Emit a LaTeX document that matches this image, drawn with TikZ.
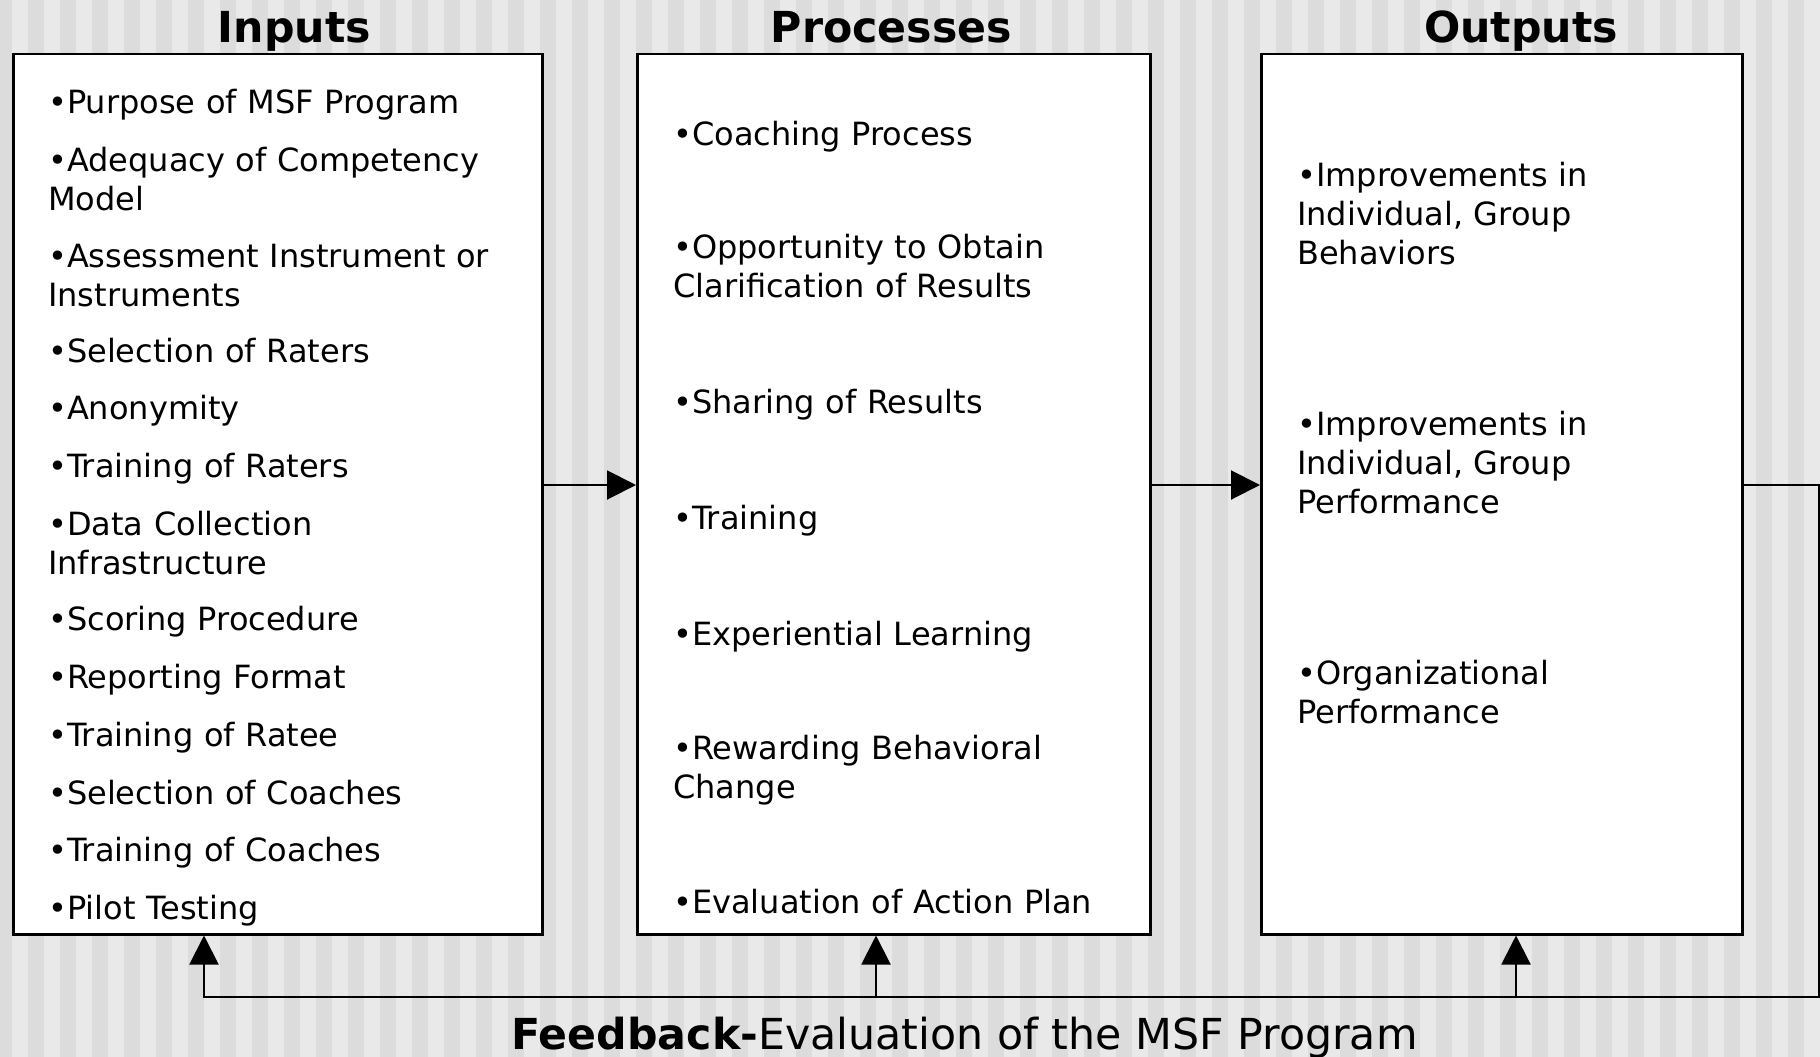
\documentclass[tikz,border=0pt]{standalone}
\usepackage{fontspec}
\setmainfont{DejaVu Sans}
\usetikzlibrary{arrows.meta}
\definecolor{stripeL}{RGB}{233,233,233}
\definecolor{stripeD}{RGB}{220,220,220}
\begin{document}
\begin{tikzpicture}[x=1pt,y=-1pt,
  colbox/.style={draw=black, line width=2.5pt, fill=white, anchor=north west,
    minimum height=880pt, inner sep=0pt},
  coltitle/.style={anchor=base, inner sep=0pt,
    font=\fontsize{42.7}{50}\selectfont\bfseries},
  colitem/.style={anchor=base west, inner sep=0pt, text width=480pt,
    align=left, font=\fontsize{32}{39}\selectfont},
  flowline/.style={line width=2pt, draw=black},
  flowarrow/.style={flowline, -{Triangle[length=29pt,width=29pt]}},
]
% page and striped background
\useasboundingbox (0,0) rectangle (1820,1057);
\fill[stripeL] (0,0) rectangle (1820,1057);
\foreach \k in {-1,...,56}
  \fill[stripeD] ({28+32*\k},0) rectangle ({44+32*\k},1057);

% column headings
\node[coltitle] (tIn)   at (294.5,43) {Inputs};
\node[coltitle] (tProc) at (891.5,43) {Processes};
\node[coltitle] (tOut)  at (1521,43)  {Outputs};

% the three columns
\node[colbox, minimum width=529pt] (in)   at (12,53)   {};
\node[colbox, minimum width=513pt] (proc) at (636,53)  {};
\node[colbox, minimum width=481pt] (out)  at (1260,53) {};

% inputs
\node[colitem] (i1)  at (48,113) {•Purpose of MSF Program};
\node[colitem] (i2)  at (48,171) {•Adequacy of Competency\\Model};
\node[colitem] (i3)  at (48,267) {•Assessment Instrument or\\Instruments};
\node[colitem] (i4)  at (48,362.5) {•Selection of Raters};
\node[colitem] (i5)  at (48,419.5) {•Anonymity};
\node[colitem] (i6)  at (48,477.5) {•Training of Raters};
\node[colitem] (i7)  at (48,535.5) {•Data Collection\\Infrastructure};
\node[colitem] (i8)  at (48,630.5) {•Scoring Procedure};
\node[colitem] (i9)  at (48,688.5) {•Reporting Format};
\node[colitem] (i10) at (48,746.5) {•Training of Ratee};
\node[colitem] (i11) at (48,804.5) {•Selection of Coaches};
\node[colitem] (i12) at (48,861.5) {•Training of Coaches};
\node[colitem] (i13) at (48,919.5) {•Pilot Testing};

% processes
\node[colitem] (p1) at (673,145.2) {•Coaching Process};
\node[colitem] (p2) at (673,258.9) {•Opportunity to Obtain\\Clarification of Results};
\node[colitem] (p3) at (673,413.3) {•Sharing of Results};
\node[colitem] (p4) at (673,529.4) {•Training};
\node[colitem] (p5) at (673,645.4) {•Experiential Learning};
\node[colitem] (p6) at (673,759.2) {•Rewarding Behavioral\\Change};
\node[colitem] (p7) at (673,913.6) {•Evaluation of Action Plan};

% outputs
\node[colitem] (o1) at (1297,186.5) {•Improvements in\\Individual, Group\\Behaviors};
\node[colitem] (o2) at (1297,435) {•Improvements in\\Individual, Group\\Performance};
\node[colitem] (o3) at (1297,684.5) {•Organizational\\Performance};

% forward flow
\coordinate (mid) at (0,485);
\draw[flowarrow] (in.east |- mid) -- (proc.west |- mid);
\draw[flowarrow] (proc.east |- mid) -- (out.west |- mid);

% feedback loop
\coordinate (loopTop) at (1819,485);
\coordinate (loopBot) at (1819,997);
\coordinate (tapIn)   at (204,997);
\coordinate (tapProc) at (876,997);
\coordinate (tapOut)  at (1516,997);
\draw[flowarrow] (out.east |- mid) -- (loopTop) -- (loopBot) -- (tapIn) -- (tapIn |- in.south);
\draw[flowarrow] (tapProc) -- (tapProc |- proc.south);
\draw[flowarrow] (tapOut) -- (tapOut |- out.south);

\node[anchor=base, inner sep=0pt, font=\fontsize{42.7}{50}\selectfont] (fb) at (964.5,1049)
  {\textbf{Feedback-}Evaluation of the MSF Program};
\end{tikzpicture}
\end{document}
